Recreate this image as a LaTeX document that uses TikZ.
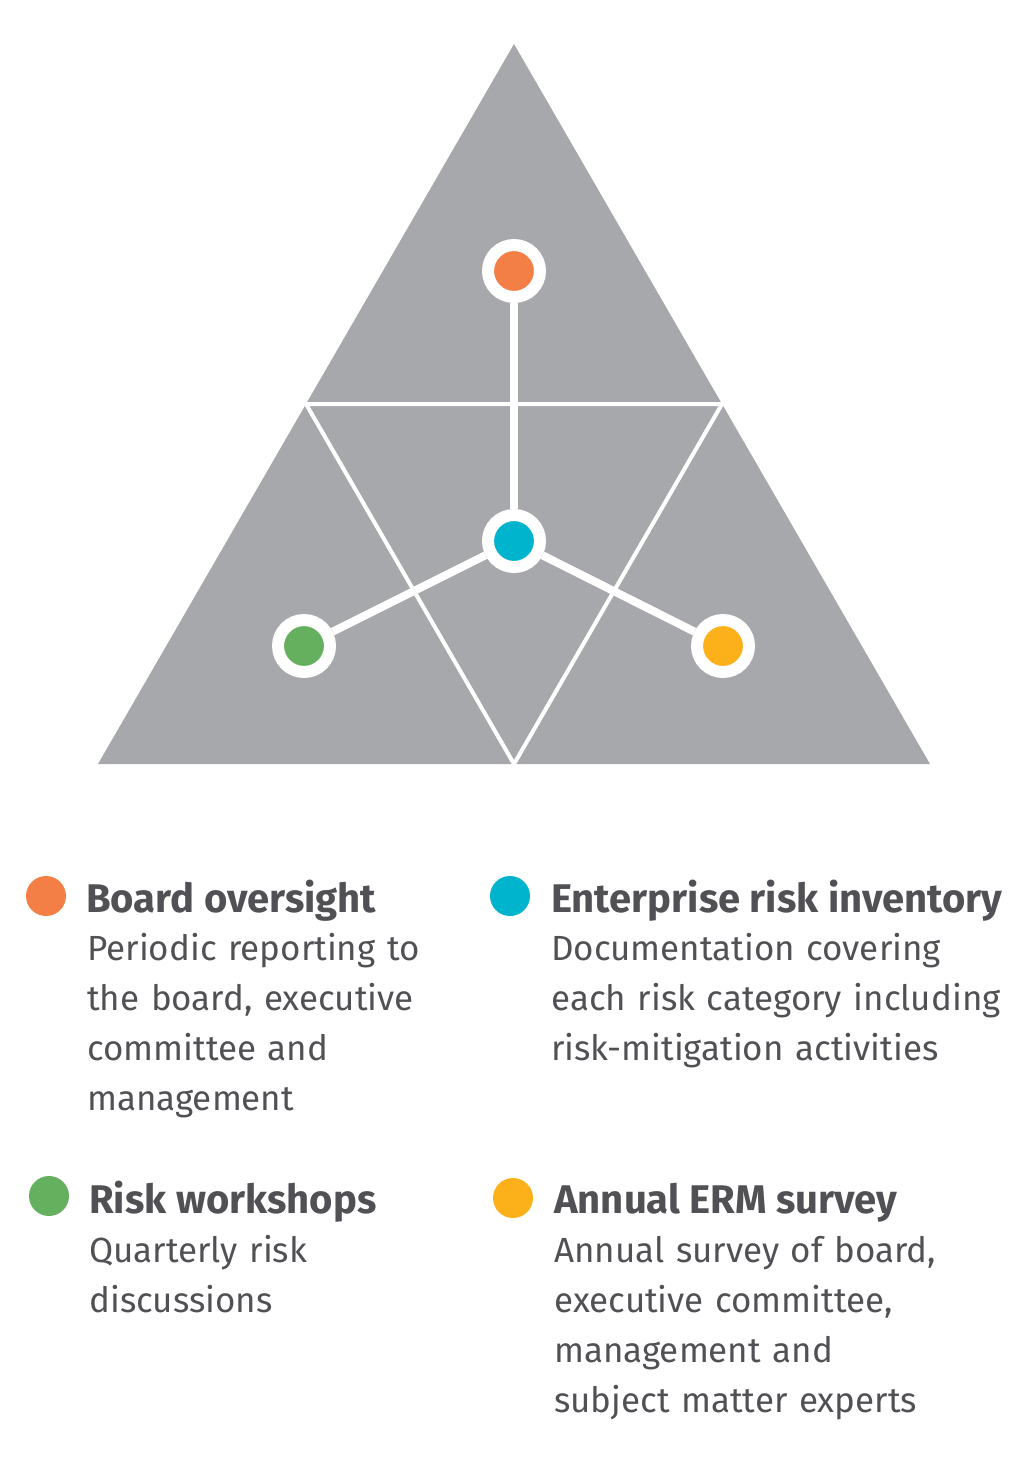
\documentclass[tikz,border=0pt]{standalone}
\usepackage{fontspec}
\setmainfont{Fira Sans}
\usetikzlibrary{positioning,calc}
\definecolor{ermGray}{RGB}{167,168,172}
\definecolor{ermText}{RGB}{80,80,85}
\definecolor{ermOrange}{RGB}{244,127,70}
\definecolor{ermCyan}{RGB}{0,180,206}
\definecolor{ermGreen}{RGB}{101,176,95}
\definecolor{ermYellow}{RGB}{252,176,26}
\tikzset{
  ring/.style={circle, draw=white, line width=9pt, minimum size=39pt, inner sep=0pt},
  link/.style={white, line width=6pt},
  dot/.style={circle, inner sep=0pt, minimum size=30pt},
  heading/.style={anchor=base west, inner sep=0pt, text=ermText, font=\fontsize{30}{36}\selectfont\bfseries},
  blurb/.style={anchor=base west, inner sep=0pt, text=ermText, text width=340pt, align=left, font=\fontsize{26.2}{37.5}\selectfont}
}
\begin{document}
\begin{tikzpicture}[x=0.75pt, y=-0.75pt]
  \useasboundingbox (0,0) rectangle (1033,1462);

  % Triangle split into four
  \coordinate (apex) at (514,44);
  \coordinate (bl) at (98,764);
  \coordinate (br) at (930,764);
  \fill[ermGray] (apex) -- (br) -- (bl) -- cycle;
  \draw[white, line width=3pt] ($(apex)!0.5!(bl)$) -- ($(apex)!0.5!(br)$) -- ($(bl)!0.5!(br)$) -- cycle;

  % Rings and links
  \node[ring, fill=ermCyan] (hub) at (514,541) {};
  \node[ring, fill=ermOrange] (board) at (514,271) {};
  \node[ring, fill=ermGreen] (workshops) at (304,646) {};
  \node[ring, fill=ermYellow] (survey) at (723,646) {};
  \foreach \n in {board,workshops,survey}
    \draw[link] (hub) -- (\n);

  % Legend
  \node[dot, fill=ermOrange] (dotboard) at (46,896) {};
  \node[heading] (hboard) at (86,912) {Board oversight};
  \node[blurb] (tboard) at (87,960) {Periodic reporting to\\the board, executive\\committee and\\management};

  \node[dot, fill=ermCyan] (dotinv) at (510,896) {};
  \node[heading] (hinv) at (551,912) {Enterprise risk inventory};
  \node[blurb] (tinv) at (551,960) {Documentation covering\\each risk category including\\risk-mitigation activities};

  \node[dot, fill=ermGreen] (dotwork) at (49,1196) {};
  \node[heading] (hwork) at (89,1213) {Risk workshops};
  \node[blurb] (twork) at (89,1262) {Quarterly risk\\discussions};

  \node[dot, fill=ermYellow] (dotsurv) at (513,1198) {};
  \node[heading] (hsurv) at (554,1213) {Annual ERM survey};
  \node[blurb] (tsurv) at (554,1262) {Annual survey of board,\\executive committee,\\management and\\subject matter experts};
\end{tikzpicture}
\end{document}
